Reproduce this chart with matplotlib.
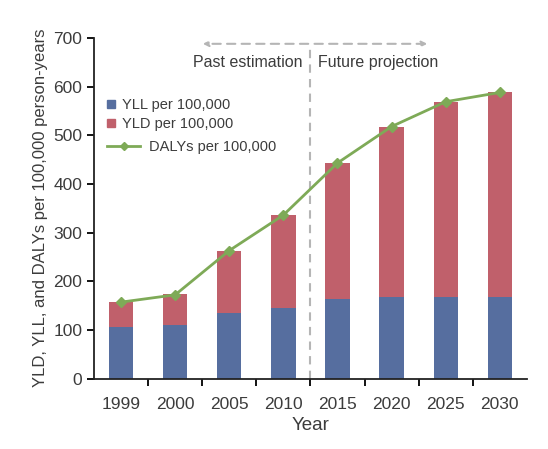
import matplotlib.pyplot as plt
from matplotlib.lines import Line2D
import numpy as np

# %% data
years = ["1999", "2000", "2005", "2010", "2015", "2020", "2025", "2030"]
yll = [105, 109, 135, 144, 164, 167, 167, 167]
yld = [53, 64, 128, 193, 280, 351, 402, 421]
dalys = [157, 172, 263, 336, 443, 518, 569, 588]

blue = "#566e9f"
red = "#c0606b"
green = "#7eaa57"
grey = "#3c3c3c"

plt.rcParams['font.family'] = ['Liberation Sans', 'DejaVu Sans']

# %% plot
fig = plt.figure(figsize=(5.48, 4.49), dpi=100)
ax = fig.add_axes([0.1715, 0.157, 0.790, 0.7584])

x = np.arange(len(years))
ax.bar(x, yll, width=0.45, color=blue, zorder=2)
ax.bar(x, yld, width=0.45, bottom=yll, color=red, zorder=2)
ax.plot(x, dalys, color=green, lw=2, marker="D", ms=5, zorder=3)

ax.set_xlim(-0.5, 7.5)
ax.set_ylim(0, 700)
ax.set_xticks(x)
ax.set_xticklabels(years)
ax.set_xticks(x[:-1] + 0.5, minor=True)
ax.tick_params(axis="x", which="major", length=0, labelsize=12.5, colors=grey, pad=13)
ax.tick_params(axis="x", which="minor", length=5, width=1.3, direction="out")
ax.tick_params(axis="y", length=5, width=1.3, labelsize=12.5, labelcolor=grey)
ax.set_yticks(range(0, 701, 100))
for s in ["top", "right"]:
    ax.spines[s].set_visible(False)
for s in ["left", "bottom"]:
    ax.spines[s].set_linewidth(1.3)
    ax.spines[s].set_color("#222222")

ax.set_xlabel("Year", fontsize=13.5, color=grey, labelpad=4)
ax.set_ylabel("YLD, YLL, and DALYs per 100,000 person-years", fontsize=12, color=grey, labelpad=4)

# past / future separator
ax.plot([3.5, 3.5], [0, 688], ls=(0, (4, 3)), color="#b5b5b5", lw=1.5, zorder=1, clip_on=False)
ax.annotate("", xy=(1.46, 688), xytext=(5.71, 688),
            arrowprops=dict(arrowstyle="<|-|>", ls=(0, (4, 3)), color="#b5b5b5", lw=1.5,
                            mutation_scale=8), annotation_clip=False)
ax.text(3.36, 649, "Past estimation", ha="right", va="center", fontsize=11.5, color=grey)
ax.text(3.64, 649, "Future projection", ha="left", va="center", fontsize=11.5, color=grey)

# legends
sq = [Line2D([], [], ls="none", marker="s", ms=6, color=blue),
      Line2D([], [], ls="none", marker="s", ms=6, color=red)]
leg1 = ax.legend(sq, ["YLL per 100,000", "YLD per 100,000"], loc="upper left",
                 bbox_to_anchor=(0.0, 0.863), frameon=False, fontsize=10.5,
                 handlelength=0.6, handletextpad=0.4, labelspacing=0.35, labelcolor=grey)
ax.add_artist(leg1)
ln = [Line2D([], [], color=green, lw=2, marker="D", ms=4.5)]
ax.legend(ln, ["DALYs per 100,000"], loc="upper left", bbox_to_anchor=(0.0, 0.74),
          frameon=False, fontsize=10.5, handlelength=2.25, handletextpad=0.6, labelcolor=grey)

fig.savefig("out.png", dpi=100)
